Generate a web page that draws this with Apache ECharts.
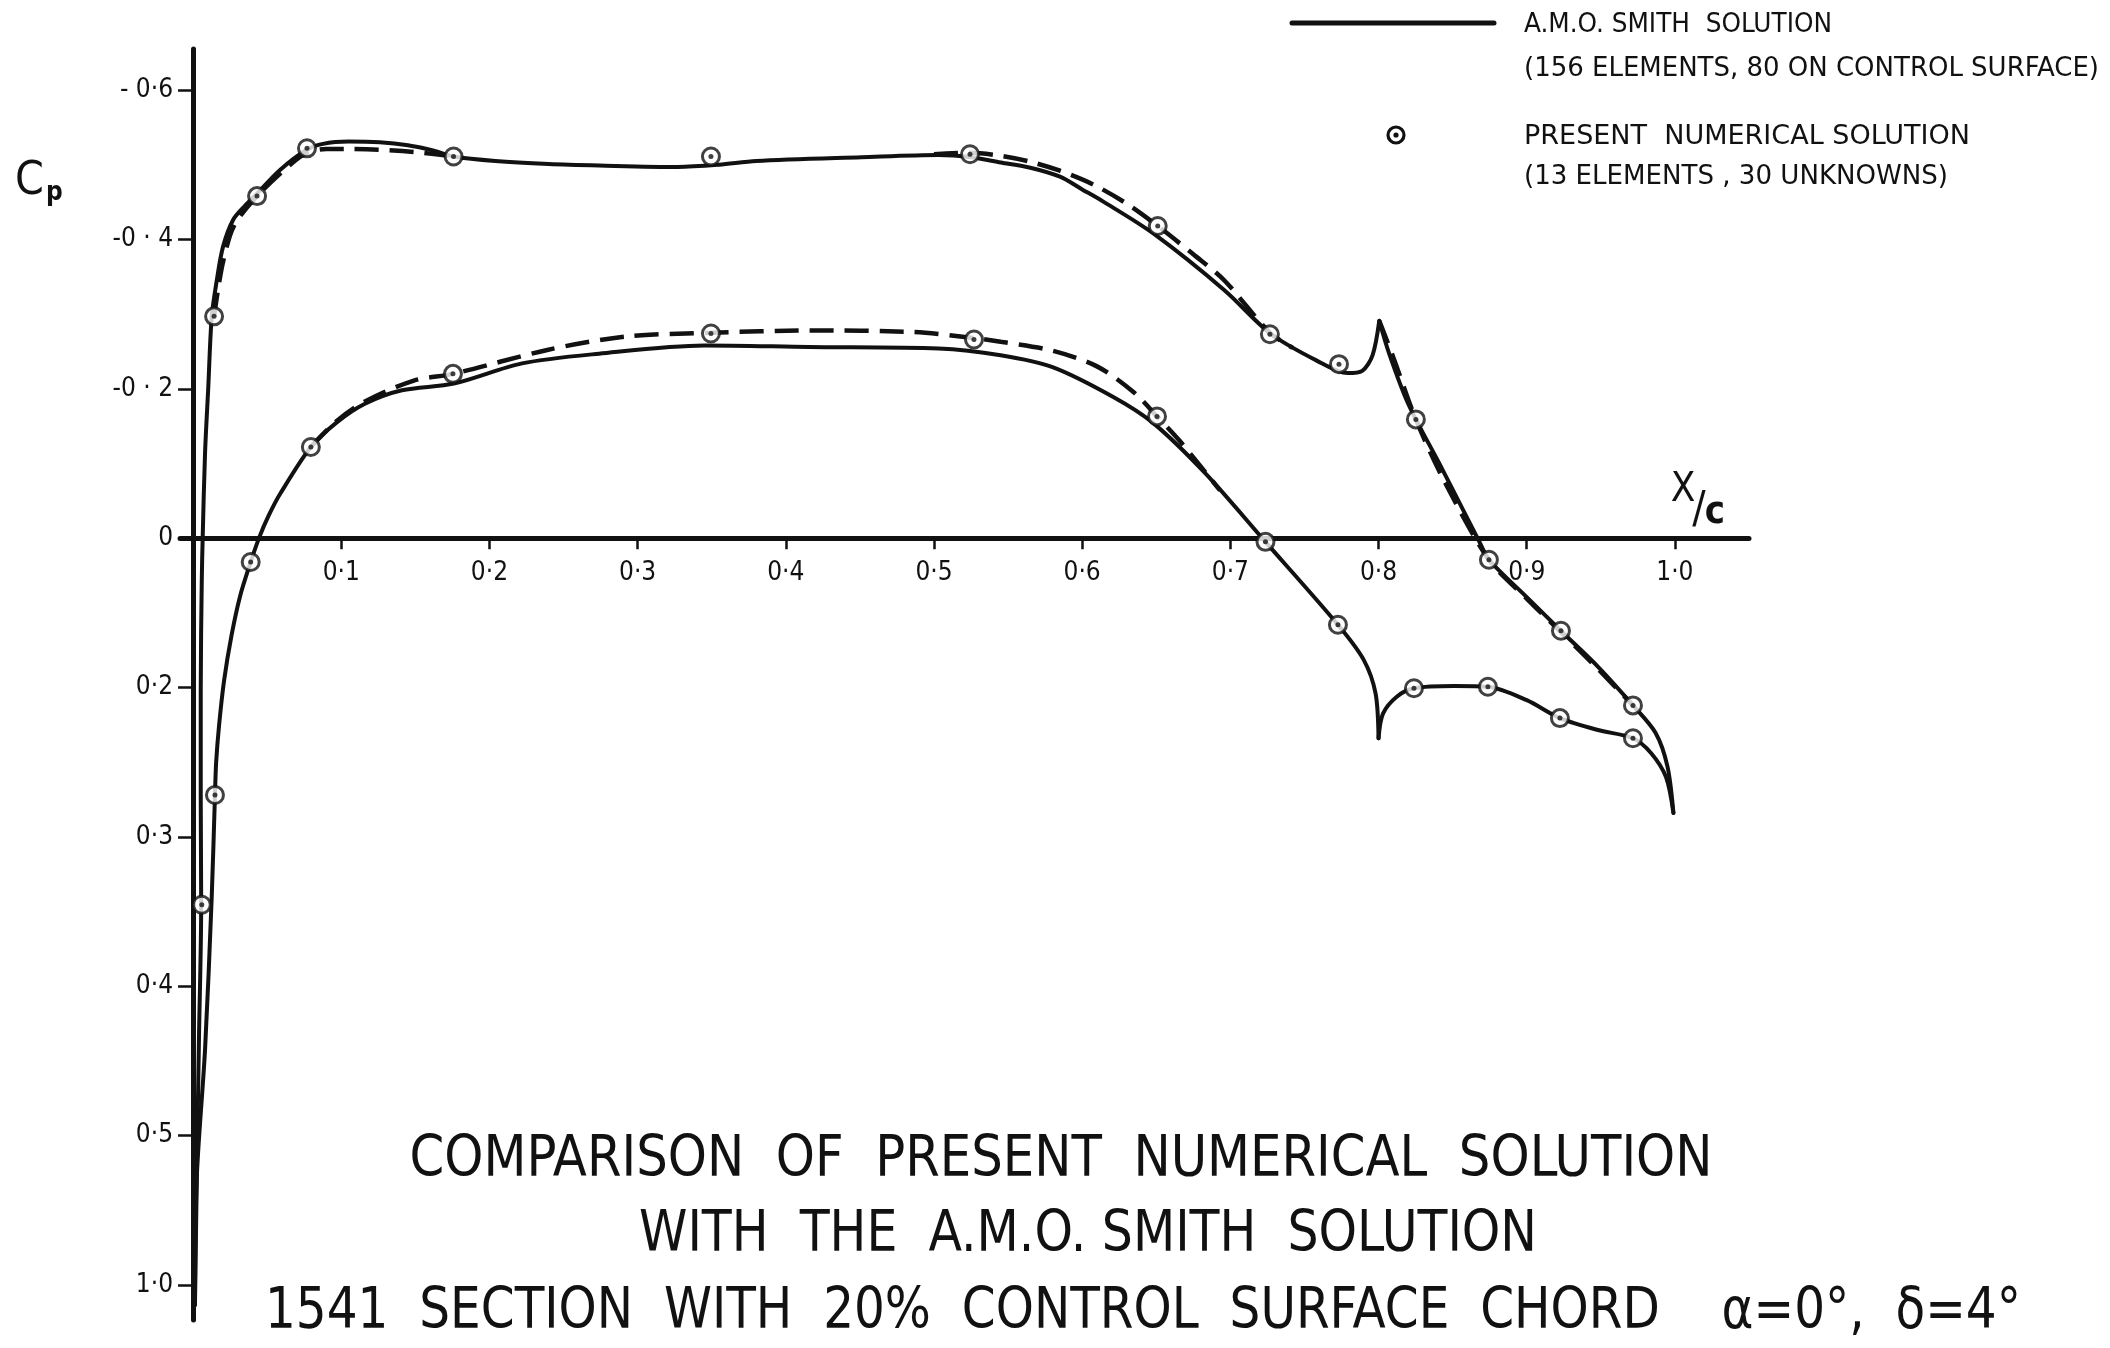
<!DOCTYPE html>
<html>
<head>
<meta charset="utf-8">
<title>Cp distribution – 1541 section with 20% control surface chord</title>
<script src="https://cdn.jsdelivr.net/npm/echarts@6/dist/echarts.min.js"></script>
<style>
  html, body { margin: 0; padding: 0; background: #ffffff; }
  #chart { width: 2110px; height: 1348px; }
</style>
</head>
<body>
<div id="chart"></div>
<script>
// ---------------------------------------------------------------------------
// Pressure coefficient Cp against x/c (negative Cp plotted upward).
// Each curve is a list of [x/c, Cp] pairs.
// ---------------------------------------------------------------------------

// A.M.O. Smith solution – upper surface, leading edge to hinge suction peak
const smithUpperFront = [
  [0.0013, 1.027], [0.0025, 0.86], [0.004, 0.67], [0.0055, 0.491], [0.0052, 0.35],
  [0.0052, 0.20], [0.0059, 0.056], [0.0065, 0.0], [0.0081, -0.114], [0.0103, -0.203],
  [0.0126, -0.296], [0.016, -0.345], [0.0202, -0.390], [0.027, -0.426], [0.035, -0.445],
  [0.043, -0.461], [0.0587, -0.493], [0.0767, -0.520], [0.0877, -0.528], [0.105, -0.531],
  [0.126, -0.530], [0.145, -0.526], [0.162, -0.519], [0.176, -0.511], [0.204, -0.505],
  [0.240, -0.501], [0.274, -0.499], [0.327, -0.497], [0.355, -0.500], [0.380, -0.505],
  [0.451, -0.510], [0.503, -0.513], [0.525, -0.510], [0.545, -0.503], [0.565, -0.496],
  [0.585, -0.484], [0.600, -0.467], [0.614, -0.451], [0.648, -0.408], [0.696, -0.332],
  [0.727, -0.274], [0.758, -0.238], [0.779, -0.221], [0.789, -0.224], [0.796, -0.245],
  [0.8005, -0.291]
];

// A.M.O. Smith solution – upper surface of the control surface, hinge to trailing edge
const smithUpperRear = [
  [0.8005, -0.291], [0.807, -0.248], [0.820, -0.180], [0.841, -0.100], [0.8686, 0.007],
  [0.8745, 0.029], [0.900, 0.079], [0.923, 0.124], [0.948, 0.172], [0.9717, 0.224],
  [0.987, 0.261], [0.995, 0.306], [0.999, 0.368]
];

// A.M.O. Smith solution – lower surface, leading edge to hinge
const smithLowerFront = [
  [0.0013, 1.027], [0.0025, 0.857], [0.0081, 0.685], [0.0126, 0.481], [0.0148, 0.344],
  [0.0156, 0.300], [0.0176, 0.250], [0.021, 0.190], [0.026, 0.130], [0.0317, 0.078],
  [0.0389, 0.032], [0.0445, 0.0], [0.051, -0.030], [0.059, -0.060], [0.0795, -0.122],
  [0.097, -0.155], [0.116, -0.180], [0.141, -0.198], [0.176, -0.207], [0.222, -0.234],
  [0.274, -0.247], [0.345, -0.258], [0.4155, -0.256], [0.503, -0.254], [0.545, -0.245],
  [0.580, -0.229], [0.621, -0.189], [0.648, -0.154], [0.683, -0.087], [0.7237, 0.005],
  [0.7726, 0.116], [0.790, 0.163], [0.798, 0.208], [0.800, 0.268]
];

// A.M.O. Smith solution – lower surface of the control surface, hinge to trailing edge
const smithLowerRear = [
  [0.800, 0.268], [0.803, 0.235], [0.8125, 0.212], [0.8239, 0.201], [0.851, 0.198],
  [0.8738, 0.199], [0.900, 0.217], [0.9224, 0.241], [0.948, 0.257], [0.9717, 0.268],
  [0.984, 0.288], [0.994, 0.320], [0.999, 0.368]
];

// Present numerical solution – element values (circled points)
const numericalUpper = [
  [0.0059, 0.491], [0.0142, -0.297], [0.0432, -0.458], [0.0769, -0.522], [0.1758, -0.511],
  [0.3495, -0.511], [0.5243, -0.514], [0.651, -0.418], [0.7267, -0.273], [0.7733, -0.233],
  [0.8252, -0.159], [0.8745, 0.029], [0.9231, 0.124], [0.9717, 0.224]
];
const numericalLower = [
  [0.0148, 0.344], [0.0389, 0.032], [0.0795, -0.122], [0.1754, -0.220], [0.3495, -0.274],
  [0.527, -0.266], [0.6505, -0.163], [0.7237, 0.005], [0.7726, 0.116], [0.8239, 0.201],
  [0.8738, 0.199], [0.9224, 0.241], [0.9717, 0.268]
];

// Present numerical solution – faired (dashed) curves where they part from the Smith curves
const numericalUpperDashA = [
  [0.0142, -0.297], [0.017, -0.335], [0.0207, -0.374], [0.0276, -0.418], [0.0432, -0.458],
  [0.0667, -0.502], [0.0769, -0.516], [0.090, -0.521], [0.105, -0.521], [0.127, -0.520],
  [0.150, -0.517], [0.1758, -0.511]
];
const numericalUpperDashB = [
  [0.500, -0.514], [0.5243, -0.516], [0.545, -0.512], [0.565, -0.504], [0.585, -0.492],
  [0.607, -0.474], [0.630, -0.448], [0.651, -0.418], [0.675, -0.380], [0.696, -0.345],
  [0.7267, -0.275], [0.742, -0.255]
];
const numericalUpperDashC = [
  [0.8005, -0.291], [0.810, -0.242], [0.8252, -0.159], [0.844, -0.078], [0.8745, 0.029],
  [0.900, 0.081], [0.9231, 0.126], [0.948, 0.175], [0.9717, 0.224]
];
const numericalLowerDash = [
  [0.0795, -0.122], [0.097, -0.157], [0.116, -0.183], [0.149, -0.211], [0.1754, -0.220],
  [0.239, -0.252], [0.292, -0.270], [0.3495, -0.275], [0.4155, -0.278], [0.486, -0.276],
  [0.527, -0.268], [0.545, -0.263], [0.580, -0.251], [0.610, -0.230], [0.635, -0.195],
  [0.6505, -0.163], [0.6655, -0.131], [0.693, -0.064]
];

// Axis ticks and their printed labels
const cpTickValues = [-0.6, -0.4, -0.2, 0, 0.2, 0.4, 0.6, 0.8, 1.0];
const cpTickLabels = ['- 0·6', '-0 · 4', '-0 · 2', '0', '0·2', '0·3', '0·4', '0·5', '1·0'];
const xTickValues = [0.1, 0.2, 0.3, 0.4, 0.5, 0.6, 0.7, 0.8, 0.9, 1.0];
const xTickLabels = ['0·1', '0·2', '0·3', '0·4', '0·5', '0·6', '0·7', '0·8', '0·9', '1·0'];

// Text
const titleLines = [
  'COMPARISON  OF  PRESENT  NUMERICAL  SOLUTION',
  'WITH  THE  A.M.O. SMITH  SOLUTION',
  '1541  SECTION  WITH  20%  CONTROL  SURFACE  CHORD    α=0°,  δ=4°'
];
const legendSmith = ['A.M.O. SMITH  SOLUTION', '(156 ELEMENTS, 80 ON CONTROL SURFACE)'];
const legendNumerical = ['PRESENT  NUMERICAL SOLUTION', '(13 ELEMENTS , 30 UNKNOWNS)'];

// ---------------------------------------------------------------------------
const FONT = "'DejaVu Sans Condensed', 'DejaVu Sans', 'Noto Sans', sans-serif";
const INK = '#111111';

// plot frame (pixels) and where the zero lines sit inside it
const PLOT = { left: 180, right: 361, top: 49, bottom: 28 };
const X_MIN = -0.0088, X_MAX = 1.05, CP_MIN = -0.655, CP_MAX = 1.047;
const plotW = 2110 - PLOT.left - PLOT.right;
const plotH = 1348 - PLOT.top - PLOT.bottom;
const zeroFromLeft = (0 - X_MIN) / (X_MAX - X_MIN) * plotW;
const zeroFromBottom = (CP_MAX - 0) / (CP_MAX - CP_MIN) * plotH;

const measureCtx = document.createElement('canvas').getContext('2d');
// Text squeezed or stretched horizontally to a given width
function fittedText(text, x, y, width, size, align) {
  measureCtx.font = size + 'px ' + FONT;
  const w = measureCtx.measureText(text).width;
  return {
    type: 'text', x: x, y: y, scaleX: width / w, silent: true,
    style: { text: text, fill: INK, font: size + 'px ' + FONT, align: align || 'left', verticalAlign: 'middle' }
  };
}

function lookupLabel(values, labels) {
  return function (v) {
    const i = values.findIndex(t => Math.abs(t - v) < 1e-6);
    return i < 0 ? '' : labels[i];
  };
}

const solidStyle = { color: INK, width: 4, cap: 'round', join: 'round' };
const dashStyle = { color: INK, width: 4.5, type: [24, 11], cap: 'butt' };

function curve(name, data, style) {
  return {
    name: name, type: 'line', data: data, showSymbol: false, smooth: 0.3,
    lineStyle: style, silent: true, z: 3, clip: false
  };
}

const chart = echarts.init(document.getElementById('chart'), null, { renderer: 'canvas' });

chart.setOption({
  animation: false,
  backgroundColor: '#ffffff',
  grid: {
    left: PLOT.left, right: PLOT.right, top: PLOT.top, bottom: PLOT.bottom,
    containLabel: false, outerBoundsMode: 'none'
  },
  xAxis: {
    type: 'value', min: X_MIN, max: X_MAX, position: 'bottom',
    offset: -zeroFromBottom,
    axisLine: { onZero: false, lineStyle: { color: INK, width: 5 } },
    axisTick: { show: true, customValues: xTickValues, length: 11, lineStyle: { color: INK, width: 2.5 } },
    axisLabel: {
      customValues: xTickValues, formatter: lookupLabel(xTickValues, xTickLabels),
      margin: 22, color: INK, fontSize: 26, fontFamily: FONT
    },
    splitLine: { show: false }
  },
  yAxis: {
    type: 'value', inverse: true, min: CP_MIN, max: CP_MAX, position: 'left',
    offset: -zeroFromLeft,
    axisLine: { onZero: false, lineStyle: { color: INK, width: 5 } },
    axisTick: { show: true, customValues: cpTickValues, length: 15, lineStyle: { color: INK, width: 2.5 } },
    axisLabel: {
      customValues: cpTickValues, formatter: lookupLabel(cpTickValues, cpTickLabels),
      margin: 20, color: INK, fontSize: 26, fontFamily: FONT
    },
    splitLine: { show: false }
  },
  series: [
    curve('Smith upper (main)', smithUpperFront, solidStyle),
    curve('Smith upper (control surface)', smithUpperRear, solidStyle),
    curve('Smith lower (main)', smithLowerFront, solidStyle),
    curve('Smith lower (control surface)', smithLowerRear, solidStyle),
    curve('Numerical upper A', numericalUpperDashA, dashStyle),
    curve('Numerical upper B', numericalUpperDashB, dashStyle),
    curve('Numerical upper C', numericalUpperDashC, dashStyle),
    curve('Numerical lower', numericalLowerDash, dashStyle),
    {
      name: 'Present numerical solution', type: 'scatter', data: numericalUpper.concat(numericalLower),
      symbol: 'circle', symbolSize: 17, silent: true, z: 5, clip: false,
      itemStyle: { color: '#ffffff', borderColor: INK, borderWidth: 3 }
    },
    {
      name: 'Present numerical solution (centre)', type: 'scatter', data: numericalUpper.concat(numericalLower),
      symbol: 'circle', symbolSize: 5, silent: true, z: 6, clip: false,
      itemStyle: { color: INK }
    }
  ],
  graphic: [
    // legend
    { type: 'line', silent: true, shape: { x1: 1292, y1: 23, x2: 1494, y2: 23 }, style: { stroke: INK, lineWidth: 5, lineCap: 'round' } },
    fittedText(legendSmith[0], 1524, 25, 308, 27),
    fittedText(legendSmith[1], 1524, 69, 575, 27),
    { type: 'circle', silent: true, shape: { cx: 1396, cy: 135, r: 8 }, style: { fill: '#ffffff', stroke: INK, lineWidth: 3.2 } },
    { type: 'circle', silent: true, shape: { cx: 1396, cy: 135, r: 2.6 }, style: { fill: INK } },
    fittedText(legendNumerical[0], 1524, 137, 446, 27),
    fittedText(legendNumerical[1], 1524, 177, 424, 27),
    // axis names
    { type: 'text', silent: true, x: 15, y: 182, style: { text: 'C', fill: INK, font: '46px ' + FONT, align: 'left', verticalAlign: 'middle' } },
    { type: 'text', silent: true, x: 46, y: 193, style: { text: 'p', fill: INK, font: 'bold 26px ' + FONT, align: 'left', verticalAlign: 'middle' } },
    { type: 'text', silent: true, x: 1683, y: 491, style: { text: 'X', fill: INK, font: '40px ' + FONT, align: 'center', verticalAlign: 'middle' } },
    { type: 'text', silent: true, x: 1699, y: 512, style: { text: '/', fill: INK, font: '44px ' + FONT, align: 'center', verticalAlign: 'middle' } },
    { type: 'text', silent: true, x: 1715, y: 513, style: { text: 'c', fill: INK, font: 'bold 38px ' + FONT, align: 'center', verticalAlign: 'middle' } },
    // title block
    fittedText(titleLines[0], 1061, 1161, 1303, 57, 'center'),
    fittedText(titleLines[1], 1088, 1236, 898, 57, 'center'),
    fittedText(titleLines[2], 1143, 1313, 1756, 57, 'center')
  ]
});
</script>
</body>
</html>
